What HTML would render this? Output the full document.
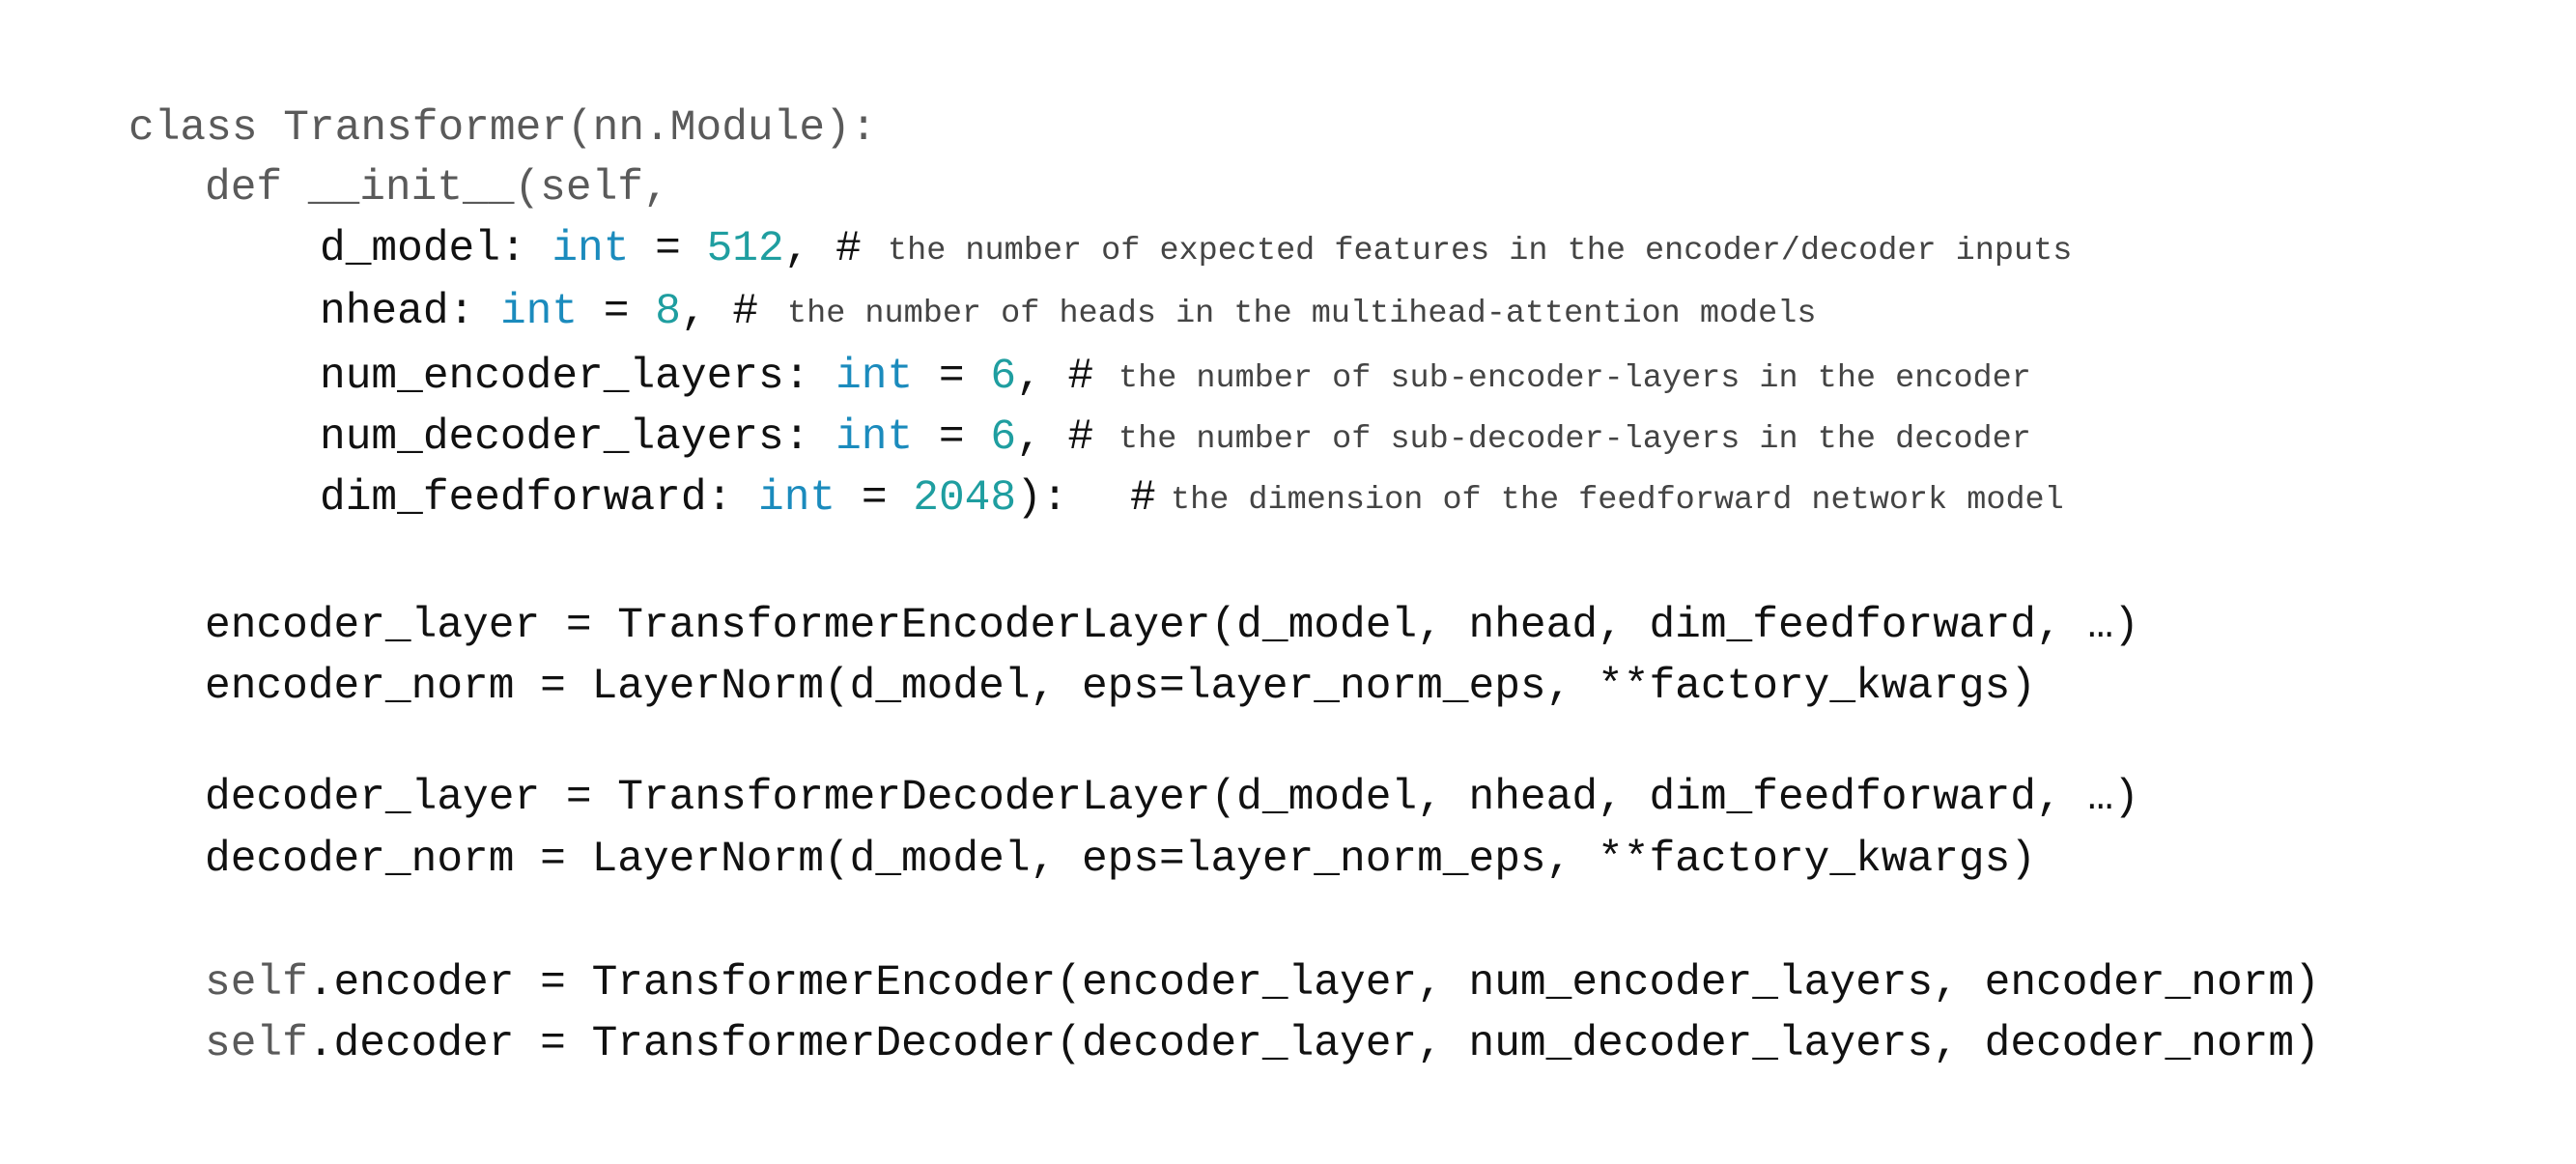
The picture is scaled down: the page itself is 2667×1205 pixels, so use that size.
<!DOCTYPE html>
<html><head><meta charset="utf-8"><style>
html,body{margin:0;padding:0;background:#fff;}
body{width:2667px;height:1205px;position:relative;overflow:hidden;}
.l{position:absolute;font-family:"Liberation Mono",monospace;font-size:44.5px;line-height:44.5px;white-space:pre;color:#111;}
.c{position:absolute;font-family:"Liberation Mono",monospace;font-size:33.5px;line-height:33.5px;white-space:pre;color:#444;}
.g{color:#5a5a5a}
.k{color:#1b8bbd}
.n{color:#1f9ea0}
</style></head><body>
<div class="l g" style="left:133px;top:111px">class Transformer(nn.Module):</div>
<div class="l g" style="left:212px;top:173px">def __init__(self,</div>
<div class="l" style="left:331px;top:236px">d_model: <span class="k">int</span> = <span class="n">512</span>, #</div>
<div class="c" style="left:919px;top:244px">the number of expected features in the encoder/decoder inputs</div>
<div class="l" style="left:331px;top:301px">nhead: <span class="k">int</span> = <span class="n">8</span>, #</div>
<div class="c" style="left:815px;top:309px">the number of heads in the multihead-attention models</div>
<div class="l" style="left:331px;top:368px">num_encoder_layers: <span class="k">int</span> = <span class="n">6</span>, #</div>
<div class="c" style="left:1158px;top:376px">the number of sub-encoder-layers in the encoder</div>
<div class="l" style="left:331px;top:431px">num_decoder_layers: <span class="k">int</span> = <span class="n">6</span>, #</div>
<div class="c" style="left:1158px;top:439px">the number of sub-decoder-layers in the decoder</div>
<div class="l" style="left:331px;top:494px">dim_feedforward: <span class="k">int</span> = <span class="n">2048</span>):</div>
<div class="l" style="left:1170px;top:494px">#</div>
<div class="c" style="left:1212px;top:502px">the dimension of the feedforward network model</div>

<div class="l" style="left:212px;top:626px">encoder_layer = TransformerEncoderLayer(d_model, nhead, dim_feedforward, …)</div>
<div class="l" style="left:212px;top:689px">encoder_norm = LayerNorm(d_model, eps=layer_norm_eps, **factory_kwargs)</div>
<div class="l" style="left:212px;top:804px">decoder_layer = TransformerDecoderLayer(d_model, nhead, dim_feedforward, …)</div>
<div class="l" style="left:212px;top:868px">decoder_norm = LayerNorm(d_model, eps=layer_norm_eps, **factory_kwargs)</div>
<div class="l" style="left:212px;top:996px"><span class="g">self</span>.encoder = TransformerEncoder(encoder_layer, num_encoder_layers, encoder_norm)</div>
<div class="l" style="left:212px;top:1059px"><span class="g">self</span>.decoder = TransformerDecoder(decoder_layer, num_decoder_layers, decoder_norm)</div>
</body></html>
